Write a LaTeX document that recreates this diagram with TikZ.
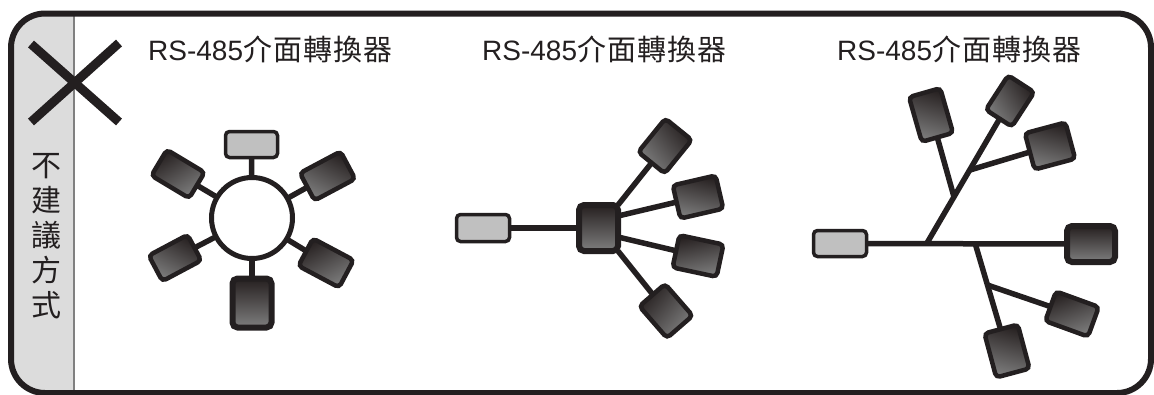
\documentclass[tikz,border=0pt]{standalone}
\usepackage{fontspec}
\setmainfont{Liberation Sans}
\newfontfamily\cjk{Noto Sans CJK TC}
\usetikzlibrary{backgrounds}
\definecolor{inkc}{HTML}{231F20}
\definecolor{stripc}{HTML}{DCDCDC}
\definecolor{divc}{HTML}{808080}
\definecolor{grayc}{HTML}{C0C0C0}
\definecolor{dtop}{HTML}{262020}
\definecolor{dbot}{HTML}{7E7E7E}
\newcommand\cjktitle{{\cjk\fontsize{29}{30}\selectfont 介\hspace{1pt}面\hspace{1pt}轉\hspace{1pt}換\hspace{1pt}器}}
\begin{document}
\begin{tikzpicture}[x=1pt,y=-1pt,
  darkbox/.style={draw=inkc, line width=4.5pt, rounded corners=4pt, top color=dtop, bottom color=dbot, inner sep=0pt},
  thickbox/.style={darkbox, line width=6pt, rounded corners=5pt},
  graybox/.style={draw=inkc, line width=3.5pt, rounded corners=4pt, fill=grayc, inner sep=0pt},
  wire/.style={draw=inkc, line width=5.5pt},
  title/.style={anchor=base west, inner sep=0pt, text=inkc, font=\fontsize{28}{30}\selectfont}
]
\useasboundingbox (0,0) rectangle (1154,394);
% strip
\begin{scope}
  \clip (0,0) rectangle (74,394);
  \fill[stripc, rounded corners=34pt] (11,13.5) rectangle (1151,393);
\end{scope}
\draw[divc, line width=1.5pt] (74,13.5) -- (74,393);
% frame
\draw[inkc, line width=6pt, rounded corners=34pt] (11,13.5) rectangle (1151,393);
% big X
\draw[inkc, line width=9pt] (31,44) -- (119,122);
\draw[inkc, line width=9pt] (119,43) -- (31,122);
% vertical text
\node[font=\cjk\fontsize{30}{35}\selectfont, align=center, text=inkc, inner sep=0pt] (vt) at (46,236) {不\\建\\議\\方\\式};
% titles
\node[title] (t1) at (148,60) {RS-485\cjktitle};
\node[title] (t2) at (482,60) {RS-485\cjktitle};
\node[title] (t3) at (837,60) {RS-485\cjktitle};

% ---------- diagram 1: ring ----------
\node[circle, draw=inkc, line width=5pt, fill=white, minimum size=81pt, inner sep=0pt] (ring) at (252,218) {};
\node[graybox, minimum width=52pt, minimum height=26pt] (g1) at (251.5,144.5) {};
\node[thickbox, minimum width=39pt, minimum height=49pt] (d1) at (252,303) {};
\node[darkbox, minimum width=44pt, minimum height=30pt, rotate=-31, shading angle=31] (ul) at (178,174) {};
\node[darkbox, minimum width=46pt, minimum height=31pt, rotate=28, shading angle=-28] (ur) at (327.5,176) {};
\node[darkbox, minimum width=44pt, minimum height=29pt, rotate=28, shading angle=-28] (ll) at (175,258) {};
\node[darkbox, minimum width=46pt, minimum height=31pt, rotate=-28, shading angle=28] (lr) at (326,263) {};
\begin{scope}[on background layer]
  \draw[wire] (ring.center) -- (g1.center);
  \draw[wire] (ring.center) -- (d1.center);
  \draw[wire] (ring.center) -- (ul.center);
  \draw[wire] (ring.center) -- (ur.center);
  \draw[wire] (ring.center) -- (ll.center);
  \draw[wire] (ring.center) -- (lr.center);
\end{scope}

% ---------- diagram 2: star ----------
\node[thickbox, minimum width=39pt, minimum height=46pt] (hub) at (598.5,228) {};
\node[graybox, minimum width=53pt, minimum height=27pt] (g2) at (483,228) {};
\node[darkbox, minimum width=43pt, minimum height=34pt, rotate=51, shading angle=-51] (s1) at (665,146) {};
\node[darkbox, minimum width=44pt, minimum height=34pt, rotate=13, shading angle=-13] (s2) at (698,197) {};
\node[darkbox, minimum width=45pt, minimum height=33pt, rotate=-12, shading angle=12] (s3) at (698,256) {};
\node[darkbox, minimum width=42pt, minimum height=34pt, rotate=-49, shading angle=49] (s4) at (666,311) {};
\begin{scope}[on background layer]
  \draw[wire] (g2.center) -- (hub.center);
  \draw[wire] ([xshift=-3pt,yshift=-3pt]hub.north east) -- (s1.center);
  \draw[wire] ([xshift=-3pt,yshift=12pt]hub.east) -- (s2.center);
  \draw[wire] ([xshift=-3pt,yshift=-9pt]hub.east) -- (s3.center);
  \draw[wire] ([xshift=-3pt,yshift=3pt]hub.south east) -- (s4.center);
\end{scope}

% ---------- diagram 3: tree ----------
\node[graybox, minimum width=53pt, minimum height=26pt] (g3) at (840,243.5) {};
\node[thickbox, minimum width=48pt, minimum height=36pt] (rb) at (1091,244) {};
\coordinate (j0) at (927,243);
\coordinate (j1) at (954,197);
\coordinate (j2) at (970,170);
\coordinate (j3) at (975,243);
\coordinate (j4) at (987.4,285);
\node[darkbox, minimum width=41pt, minimum height=31pt, rotate=57, shading angle=-57] (tb1) at (1010,101) {};
\node[darkbox, minimum width=32.5pt, minimum height=46.5pt, rotate=16, shading angle=-16] (tb2) at (931,115) {};
\node[darkbox, minimum width=42pt, minimum height=37.5pt, rotate=15, shading angle=-15] (tb3) at (1050,146) {};
\node[darkbox, minimum width=45.5pt, minimum height=31.5pt, rotate=-20, shading angle=20] (tb4) at (1072,314) {};
\node[darkbox, minimum width=34.5pt, minimum height=45.5pt, rotate=15, shading angle=-15] (tb5) at (1007,351) {};
\begin{scope}[on background layer]
  \draw[wire] (g3.center) -- (rb.center);
  \draw[wire] (j0) -- (tb1.center);
  \draw[wire] (j1) -- (tb2.center);
  \draw[wire] (j2) -- (tb3.center);
  \draw[wire] (j3) -- (tb5.center);
  \draw[wire] (j4) -- (tb4.center);
\end{scope}
\end{tikzpicture}
\end{document}
